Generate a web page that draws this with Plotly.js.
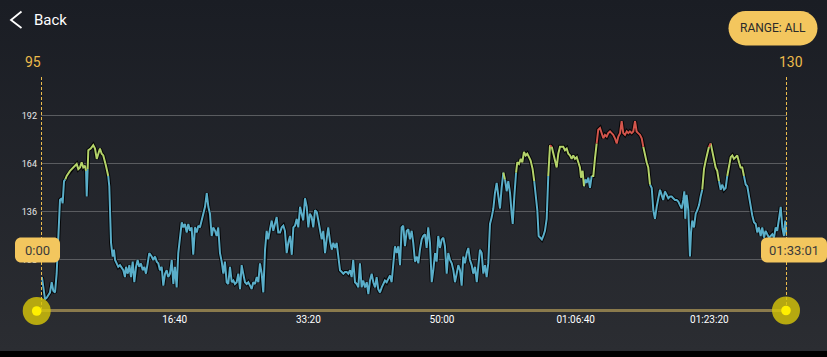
<!DOCTYPE html>
<html>
<head>
<meta charset="utf-8">
<script src="https://cdn.plot.ly/plotly-3.0.1.min.js"></script>
<style>
  html, body { margin: 0; padding: 0; width: 827px; height: 357px; overflow: hidden; }
  body { background: linear-gradient(to bottom, #1a1d24 0px, #2b2d32 351px, #000 351px, #000 357px); }
  #chart { width: 827px; height: 357px; }
</style>
</head>
<body>
<div id="chart"></div>
<script>
// ---- data: heart rate (bpm) over elapsed time (seconds) ----
const times = [7,30,43,67,80,92,105,117,129,142,155,162,172,182,192,217,242,267,279,292,304,316,329,337,342,349,354,372,391,404,417,429,441,454,466,486,503,511,524,536,546,554,566,578,591,604,616,628,636,649,661,673,686,698,711,723,735,748,761,773,785,798,810,828,840,853,866,878,890,903,915,928,940,952,965,978,990,1002,1015,1027,1040,1053,1065,1077,1090,1102,1115,1127,1139,1152,1165,1177,1189,1202,1214,1227,1240,1252,1264,1277,1289,1302,1314,1326,1339,1352,1364,1376,1389,1401,1414,1427,1439,1451,1464,1476,1489,1501,1513,1526,1539,1551,1564,1576,1588,1601,1614,1626,1638,1651,1663,1676,1688,1700,1713,1726,1738,1751,1763,1775,
1788,1801,1813,1825,1838,1850,1863,1876,1888,1900,1913,1925,1938,1950,1962,1975,1988,2000,2012,2025,2037,2050,2063,2075,2087,2100,2112,2125,2137,2149,2162,2175,2187,2199,2212,2224,2237,2250,2262,2274,2287,2299,2312,2324,2336,2349,2362,2374,2386,2399,2411,2424,2437,2449,2461,2474,2486,2499,2511,2523,2536,2549,2561,2573,2586,2598,2611,2623,2636,2648,2661,2673,2686,2698,2710,2723,2736,2748,2760,2773,2785,2798,2811,2823,2835,2848,2860,2873,2885,2897,2910,2923,2935,2948,2960,2972,2985,2998,3010,3022,3035,3047,3060,3073,3085,3097,3110,3122,3135,3147,3159,3172,3185,3197,3209,3222,3234,3247,3260,3272,3284,3297,3309,3322,3334,3346,3359,3372,3384,3396,3409,3422,3434,3446,3459,3471,3484,3496,3509,3521,3529,3541,3554,3563,3576,3589,3601,3613,3626,3638,3651,3663,3678,3690,3703,3713,3723,
3747,3758,3770,3783,3795,3808,3821,3833,3845,3858,3870,3883,3895,3907,3920,3933,3945,3957,3970,3982,3995,4008,4020,4032,4040,4052,4062,4072,4082,4095,4107,4120,4132,4144,4157,4169,4182,4195,4207,4219,4232,4244,4257,4269,4281,4294,4307,4319,4332,4344,4356,4369,4382,4394,4406,4419,4431,4444,4456,4468,4481,4494,4506,4519,4531,4543,4556,4569,4581,4593,4606,4618,4631,4643,4655,4668,4681,4693,4706,4718,4730,4743,4756,4768,4780,4793,4805,4813,4820,4830,4843,4855,4863,4872,4885,4898,4910,4923,4935,4947,4960,4973,4985,4997,5010,5022,5035,5047,5059,5072,5085,5097,5110,5122,5134,5147,5160,5172,5184,5197,5209,5222,5234,5246,5259,5272,5284,5296,5309,5321,5334,5347,5359,5371,5384,5396,5409,5421,5433,5446,5459,5471,5484,5496,5508,5521,5534,5546,5558,5568,5579];
const bpm = [98,85,86,89,95,90,89,100,120,143,144,141,154,155,157,160,162,164,161,162,165,162,163,160,145,161,172,173,175,173,167,170,173,170,169,163,157,151,118,110,114,108,106,104,105,103,102,98,104,100,105,98,107,95,104,108,104,106,102,104,100,106,112,110,108,110,107,106,102,104,93,100,102,98,100,108,94,104,92,112,122,130,127,129,124,129,125,127,111,127,124,128,127,131,134,139,147,139,135,122,127,125,122,127,112,107,100,107,95,94,104,95,96,94,95,100,91,105,100,95,94,95,93,91,95,94,98,95,106,100,89,114,125,120,126,131,125,129,133,124,
124,127,128,125,112,118,122,111,127,128,132,127,139,135,131,144,139,127,135,133,127,137,136,131,126,120,125,112,120,127,119,114,118,115,118,110,102,101,100,101,101,100,102,98,108,95,94,92,106,92,96,92,95,88,96,100,95,92,98,91,89,92,94,96,95,97,99,95,104,116,112,116,105,127,128,116,125,126,120,125,118,107,110,106,114,120,122,123,115,127,118,95,102,112,107,122,115,120,121,116,100,112,108,106,102,95,100,105,102,93,110,106,112,115,108,105,100,104,95,106,114,112,100,105,98,106,129,133,138,147,153,145,138,150,159,155,148,154,147,135,129,145,159,165,164,167,165,171,169,170,168,166,161,154,143,137,122,
120,122,125,132,157,175,174,170,166,162,170,174,174,174,172,173,170,169,167,169,167,168,165,162,156,160,151,155,153,156,150,157,157,167,176,184,185,182,179,181,180,182,183,182,181,179,176,180,182,189,182,181,183,182,183,182,183,189,183,182,181,179,174,169,165,162,152,150,137,132,139,143,149,146,143,148,146,144,145,145,144,143,143,142,140,138,143,148,132,146,137,110,124,131,127,135,137,140,145,149,161,166,171,174,176,172,166,162,160,154,149,152,149,150,157,162,168,169,167,168,169,165,162,162,157,152,151,145,139,134,130,129,124,127,122,127,121,125,123,121,122,123,121,127,125,132,139,127,122,131,122];

const duration = 5581;                 // 01:33:01
const xTickVals = [1000, 2000, 3000, 4000, 5000];
const xTickText = ['16:40', '33:20', '50:00', '01:06:40', '01:23:20'];
const yTickVals = [108, 136, 164, 192];
const rangeStartLabel = '0:00';
const rangeEndLabel = '01:33:01';
const leftValueLabel = '95';
const rightValueLabel = '130';
const zoneGreen = 155;
const zoneRed = 174.5;

// ---- styles ----
const zoneColors = ['#5aaec9', '#b4d36a', '#d2554c'];
const gold = '#ecbb4c';
const boxFill = '#f3c65e';

// split the line into coloured runs by heart-rate zone
const xs = [[], [], []], ys = [[], [], []];
let prev = null;
for (let i = 0; i < bpm.length - 1; i++) {
  const m = (bpm[i] + bpm[i + 1]) / 2;
  const z = m >= zoneRed ? 2 : (m >= zoneGreen ? 1 : 0);
  if (z !== prev) {
    if (xs[z].length) { xs[z].push(null); ys[z].push(null); }
    xs[z].push(times[i]); ys[z].push(bpm[i]);
  }
  xs[z].push(times[i + 1]); ys[z].push(bpm[i + 1]);
  prev = z;
}

const traces = [{
  x: times, y: bpm, type: 'scatter', mode: 'lines',
  line: { color: 'rgba(0,0,0,0.85)', width: 4 }, hoverinfo: 'skip'
}];
for (let z = 0; z < 3; z++) {
  traces.push({
    x: xs[z], y: ys[z], type: 'scatter', mode: 'lines', connectgaps: false,
    line: { color: zoneColors[z], width: 2 }, hoverinfo: 'skip'
  });
}

// pixel -> paper helpers (plot area 41..787 x 77..310)
const L = 41, R = 787, T = 77, B = 310;
const px = v => (v - L) / (R - L);
const py = v => (B - v) / (B - T);
function roundRect(x1, y1, x2, y2, r) {
  const k = 0.5523 * r;
  const P = (a, b) => px(a).toFixed(5) + ',' + py(b).toFixed(5);
  return 'M' + P(x1 + r, y1) + ' L' + P(x2 - r, y1) +
    ' C' + P(x2 - r + k, y1) + ' ' + P(x2, y1 + r - k) + ' ' + P(x2, y1 + r) +
    ' L' + P(x2, y2 - r) +
    ' C' + P(x2, y2 - r + k) + ' ' + P(x2 - r + k, y2) + ' ' + P(x2 - r, y2) +
    ' L' + P(x1 + r, y2) +
    ' C' + P(x1 + r - k, y2) + ' ' + P(x1, y2 - r + k) + ' ' + P(x1, y2 - r) +
    ' L' + P(x1, y1 + r) +
    ' C' + P(x1, y1 + r - k) + ' ' + P(x1 + r - k, y1) + ' ' + P(x1 + r, y1) + ' Z';
}
function circ(cx, cy, r, color) {
  return { type: 'circle', xref: 'paper', yref: 'paper', layer: 'above',
    x0: px(cx - r), x1: px(cx + r), y0: py(cy + r), y1: py(cy - r),
    fillcolor: color, line: { width: 0 } };
}

const shapes = [
  // dashed range markers
  { type: 'line', xref: 'x', yref: 'paper', x0: 0, x1: 0, y0: py(310), y1: py(76), layer: 'above',
    line: { color: gold, width: 2, dash: '3px,2px' } },
  { type: 'line', xref: 'x', yref: 'paper', x0: duration, x1: duration, y0: py(310), y1: py(76), layer: 'above',
    line: { color: gold, width: 2, dash: '3px,2px' } },
  // slider track
  { type: 'line', xref: 'paper', yref: 'paper', x0: px(37), x1: px(786), y0: py(310.5), y1: py(310.5), layer: 'above',
    line: { color: '#8a7a4c', width: 3 } },
  circ(36.7, 311, 14, 'rgba(214,196,10,0.82)'),
  circ(36.7, 311, 4.8, '#fff000'),
  circ(786, 310.5, 14, 'rgba(214,196,10,0.82)'),
  circ(786, 310.5, 4.8, '#fff000'),
  // label boxes
  { type: 'path', xref: 'paper', yref: 'paper', layer: 'above', path: roundRect(15, 237.5, 60, 262.5, 6),
    fillcolor: boxFill, line: { width: 0 } },
  { type: 'path', xref: 'paper', yref: 'paper', layer: 'above', path: roundRect(761, 237.5, 827, 262.5, 6),
    fillcolor: boxFill, line: { width: 0 } },
  // RANGE pill
  { type: 'path', xref: 'paper', yref: 'paper', layer: 'above', path: roundRect(728.5, 11, 817.5, 45.5, 17.2),
    fillcolor: boxFill, line: { width: 0 } },
  // back chevron
  { type: 'path', xref: 'paper', yref: 'paper', layer: 'above',
    path: 'M' + px(21.5) + ',' + py(11.5) + ' L' + px(11) + ',' + py(20) + ' L' + px(21.5) + ',' + py(28),
    line: { color: '#ffffff', width: 1.8 } }
];

function ann(text, x, y, size, color, anchor) {
  return { text: text, xref: 'paper', yref: 'paper', x: px(x), y: py(y), showarrow: false,
    xanchor: anchor || 'center', yanchor: 'middle', font: { family: 'Roboto', size: size, color: color } };
}
const annotations = [
  ann('Back', 31.5, 20, 15, '#ffffff', 'left'),
  ann('RANGE: ALL', 773, 28.5, 12, '#2a2a2a'),
  ann(leftValueLabel, 32.5, 62.5, 14, gold),
  ann(rightValueLabel, 791, 62.5, 14, gold),
  ann(rangeStartLabel, 37.5, 250, 13, '#3a3a3a'),
  ann(rangeEndLabel, 794, 250, 13, '#3a3a3a')
];

const layout = {
  width: 827, height: 357,
  margin: { l: L, r: 827 - R, t: T, b: 357 - B, pad: 0 },
  paper_bgcolor: 'rgba(0,0,0,0)', plot_bgcolor: 'rgba(0,0,0,0)',
  showlegend: false,
  font: { family: 'Roboto', color: '#ffffff' },
  xaxis: {
    range: [0, duration], tickvals: xTickVals, ticktext: xTickText,
    showgrid: false, zeroline: false, showline: false, ticks: '',
    tickfont: { family: 'Roboto', size: 10, color: '#ffffff' }, ticklabelstandoff: 2
  },
  yaxis: {
    range: [78.8, 214.75], tickvals: yTickVals,
    showgrid: true, gridcolor: '#5a5c60', gridwidth: 1, zeroline: false, showline: false, ticks: '',
    tickfont: { family: 'Roboto', size: 9, color: '#e8e8e8' }, ticklabelstandoff: 3
  },
  shapes: shapes,
  annotations: annotations
};

Plotly.newPlot('chart', traces, layout, { displayModeBar: false, staticPlot: true });
</script>
</body>
</html>
